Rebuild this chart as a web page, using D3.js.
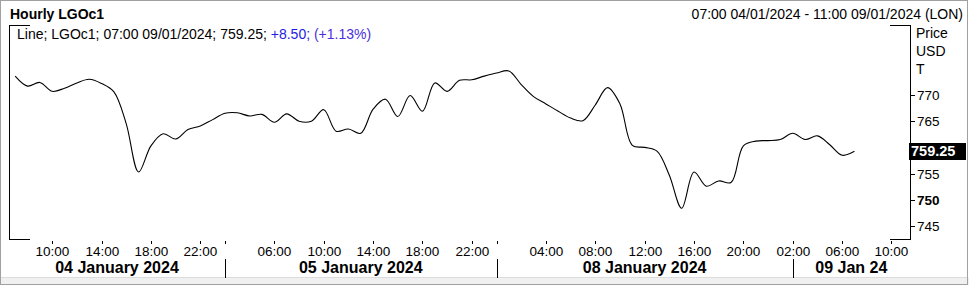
<!DOCTYPE html>
<html>
<head>
<meta charset="utf-8">
<script src="https://cdn.jsdelivr.net/npm/d3@7"></script>
<style>
html, body { margin: 0; padding: 0; background: #fff; }
svg { display: block; font-family: "Liberation Sans", Arial, sans-serif; }
</style>
</head>
<body>
<svg id="chart" width="969" height="285"></svg>
<script>
// trading days on the axis (bars are labelled by their hour)
const days = [
    {date: '04/01', label: '04 January 2024', first: 7, last: 23},
    {date: '05/01', label: '05 January 2024', first: 2, last: 23},
    {date: '08/01', label: '08 January 2024', first: 0, last: 23},
    {date: '09/01', label: '09 Jan 24', first: 2, last: 11}
]

// hourly LGOc1 closes, 07:00 04/01 .. 07:00 09/01
const prices = [
    773.6, 771.7, 772.4, 770.7, 771.3, 772.3, 773.0, 772.2, 770.6, 764.5,
    755.3, 760.3, 762.6, 761.6, 763.4, 764.1, 765.3, 766.5, 766.6, 766.0,
    766.3, 764.8, 766.4, 765.0, 765.0, 767.2, 763.1, 763.5, 762.7, 767.3,
    769.2, 765.9, 769.9, 766.9, 772.3, 770.7, 772.8, 772.9, 773.6, 774.2,
    774.6, 772.0, 769.7, 768.3, 766.9, 765.6, 765.1, 768.1, 771.4, 768.3,
    760.4, 760.0, 759.3, 754.7, 748.4, 755.3, 752.6, 753.6, 753.3, 760.3,
    761.2, 761.3, 761.5, 762.7, 761.5, 762.2, 760.5, 758.5, 759.25
]

const hourTicks = [
    '04/01 10:00', '04/01 14:00', '04/01 18:00', '04/01 22:00',
    '05/01 02:00', '05/01 06:00', '05/01 10:00', '05/01 14:00', '05/01 18:00', '05/01 22:00',
    '08/01 00:00', '08/01 04:00', '08/01 08:00', '08/01 12:00', '08/01 16:00', '08/01 20:00',
    '09/01 02:00', '09/01 06:00', '09/01 10:00'
]
const hiddenTickLabels = ['05/01 02:00', '08/01 00:00']

const priceTicks = [745, 750, 755, 760, 765, 770]
const lastPrice = 759.25

const pad = (n) => (n < 10 ? '0' : '') + n

// build bar list from the days
let bars = []
days.forEach(d => {
    for (let h = d.first; h <= d.last; h++) bars.push(d.date + ' ' + pad(h) + ':00')
})
const barIndex = (t) => bars.indexOf(t)

const plot = {left: 9, right: 910, top: 25, bottom: 239}

const x = d3.scaleLinear().domain([-0.5, bars.length - 0.5]).range([plot.left, plot.right])
const y = d3.scaleLinear().domain([745, 770]).range([226, 95])

const svg = d3.select('#chart')

// outer window frame
svg.append('rect').attr('x', 0).attr('y', 0).attr('width', 969).attr('height', 285).attr('fill', '#fff')
svg.append('rect').attr('x', 0).attr('y', 278).attr('width', 969).attr('height', 7).attr('fill', '#f0f0f0')
svg.append('rect').attr('x', 0.5).attr('y', 0.5).attr('width', 967).attr('height', 284)
    .attr('fill', 'none').attr('stroke', '#a0a0a0').attr('shape-rendering', 'crispEdges')
svg.append('line').attr('x1', 1).attr('x2', 967).attr('y1', 277.5).attr('y2', 277.5)
    .attr('stroke', '#dcdcdc').attr('shape-rendering', 'crispEdges')

// header
svg.append('text').attr('x', 10).attr('y', 19).attr('font-size', 14).attr('font-weight', 'bold')
    .text('Hourly LGOc1')
svg.append('text').attr('x', 963).attr('y', 19).attr('font-size', 14).attr('text-anchor', 'end')
    .text('07:00 04/01/2024 - 11:00 09/01/2024 (LON)')

// plot frame: full sides, short corner pieces top and bottom
const frame = svg.append('g').attr('stroke', '#000').attr('shape-rendering', 'crispEdges')
frame.append('line').attr('x1', plot.left + 0.5).attr('x2', plot.left + 0.5).attr('y1', plot.top).attr('y2', plot.bottom + 1)
frame.append('line').attr('x1', plot.right + 0.5).attr('x2', plot.right + 0.5).attr('y1', plot.top).attr('y2', plot.bottom + 1)
;[plot.top + 0.5, plot.bottom + 0.5].forEach(yy => {
    frame.append('line').attr('x1', plot.left).attr('x2', 30).attr('y1', yy).attr('y2', yy)
    frame.append('line').attr('x1', 890).attr('x2', plot.right + 1).attr('y1', yy).attr('y2', yy)
})

// legend line
const legend = svg.append('text').attr('x', 17).attr('y', 39).attr('font-size', 14)
legend.append('tspan').attr('fill', '#000').text('Line; LGOc1; 07:00 09/01/2024; ' + lastPrice.toFixed(2) + '; ')
legend.append('tspan').attr('fill', '#1c1ce6').text('+8.50; ')
legend.append('tspan').attr('fill', '#4a30dc').text('(+1.13%)')

// price line
svg.append('clipPath').attr('id', 'clip').append('rect')
    .attr('x', plot.left + 1).attr('y', plot.top + 1)
    .attr('width', plot.right - plot.left - 1).attr('height', plot.bottom - plot.top - 1)

const line = d3.line()
    .x((d, i) => x(i))
    .y(d => y(d))
    .curve(d3.curveCatmullRom.alpha(0.5))

svg.append('path')
    .datum(prices)
    .attr('clip-path', 'url(#clip)')
    .attr('d', line)
    .attr('fill', 'none')
    .attr('stroke', '#000')
    .attr('stroke-width', 1.1)

// right price axis
const yAxis = svg.append('g').attr('font-size', 13)
;['Price', 'USD', 'T'].forEach((t, k) => {
    yAxis.append('text').attr('x', 916).attr('y', 38 + k * 18).attr('font-size', 14).text(t)
})
priceTicks.forEach(v => {
    const yy = Math.round(y(v)) + 0.5
    yAxis.append('line').attr('x1', plot.right).attr('x2', plot.right + 5).attr('y1', yy).attr('y2', yy)
        .attr('stroke', '#000').attr('shape-rendering', 'crispEdges')
    // the label under the last-price box is covered, so it is not written
    if (Math.abs(y(v) - y(lastPrice)) < 10) return
    yAxis.append('text').attr('x', 917).attr('y', yy + 4.5)
        .attr('font-size', 13.5)
        .attr('font-weight', v == 750 ? 'bold' : 'normal')
        .text(v)
})

// last price box
const ly = y(lastPrice)
svg.append('rect').attr('x', 909).attr('y', Math.round(ly) - 8).attr('width', 57).attr('height', 17).attr('fill', '#000')
svg.append('text').attr('x', 911).attr('y', Math.round(ly) + 5).attr('font-size', 14.5).attr('font-weight', 'bold')
    .attr('fill', '#fff').text(lastPrice.toFixed(2))

// time axis
const xAxis = svg.append('g').attr('font-size', 13.5)
hourTicks.forEach(t => {
    const xx = Math.round(x(barIndex(t))) + 0.5
    xAxis.append('line').attr('x1', xx).attr('x2', xx).attr('y1', 241).attr('y2', 244)
        .attr('stroke', '#000').attr('shape-rendering', 'crispEdges')
    if (hiddenTickLabels.indexOf(t) < 0) {
        xAxis.append('text').attr('x', xx).attr('y', 256).attr('text-anchor', 'middle').text(t.split(' ')[1])
    }
})

// day labels and separators
days.forEach((d, k) => {
    const start = barIndex(d.date + ' ' + pad(d.first) + ':00')
    const end = k < days.length - 1 ? barIndex(days[k + 1].date + ' ' + pad(days[k + 1].first) + ':00') : null
    const x0 = k == 0 ? plot.left : x(start)
    const x1 = end == null ? plot.right : x(end)
    if (k > 0) {
        const xx = Math.round(x(start)) + 0.5
        xAxis.append('line').attr('x1', xx).attr('x2', xx).attr('y1', 259).attr('y2', 278)
            .attr('stroke', '#000').attr('shape-rendering', 'crispEdges')
    }
    xAxis.append('text').attr('x', (x0 + x1) / 2).attr('y', 273)
        .attr('text-anchor', 'middle').attr('font-size', 16).attr('font-weight', 'bold')
        .text(d.label)
})
</script>
</body>
</html>
